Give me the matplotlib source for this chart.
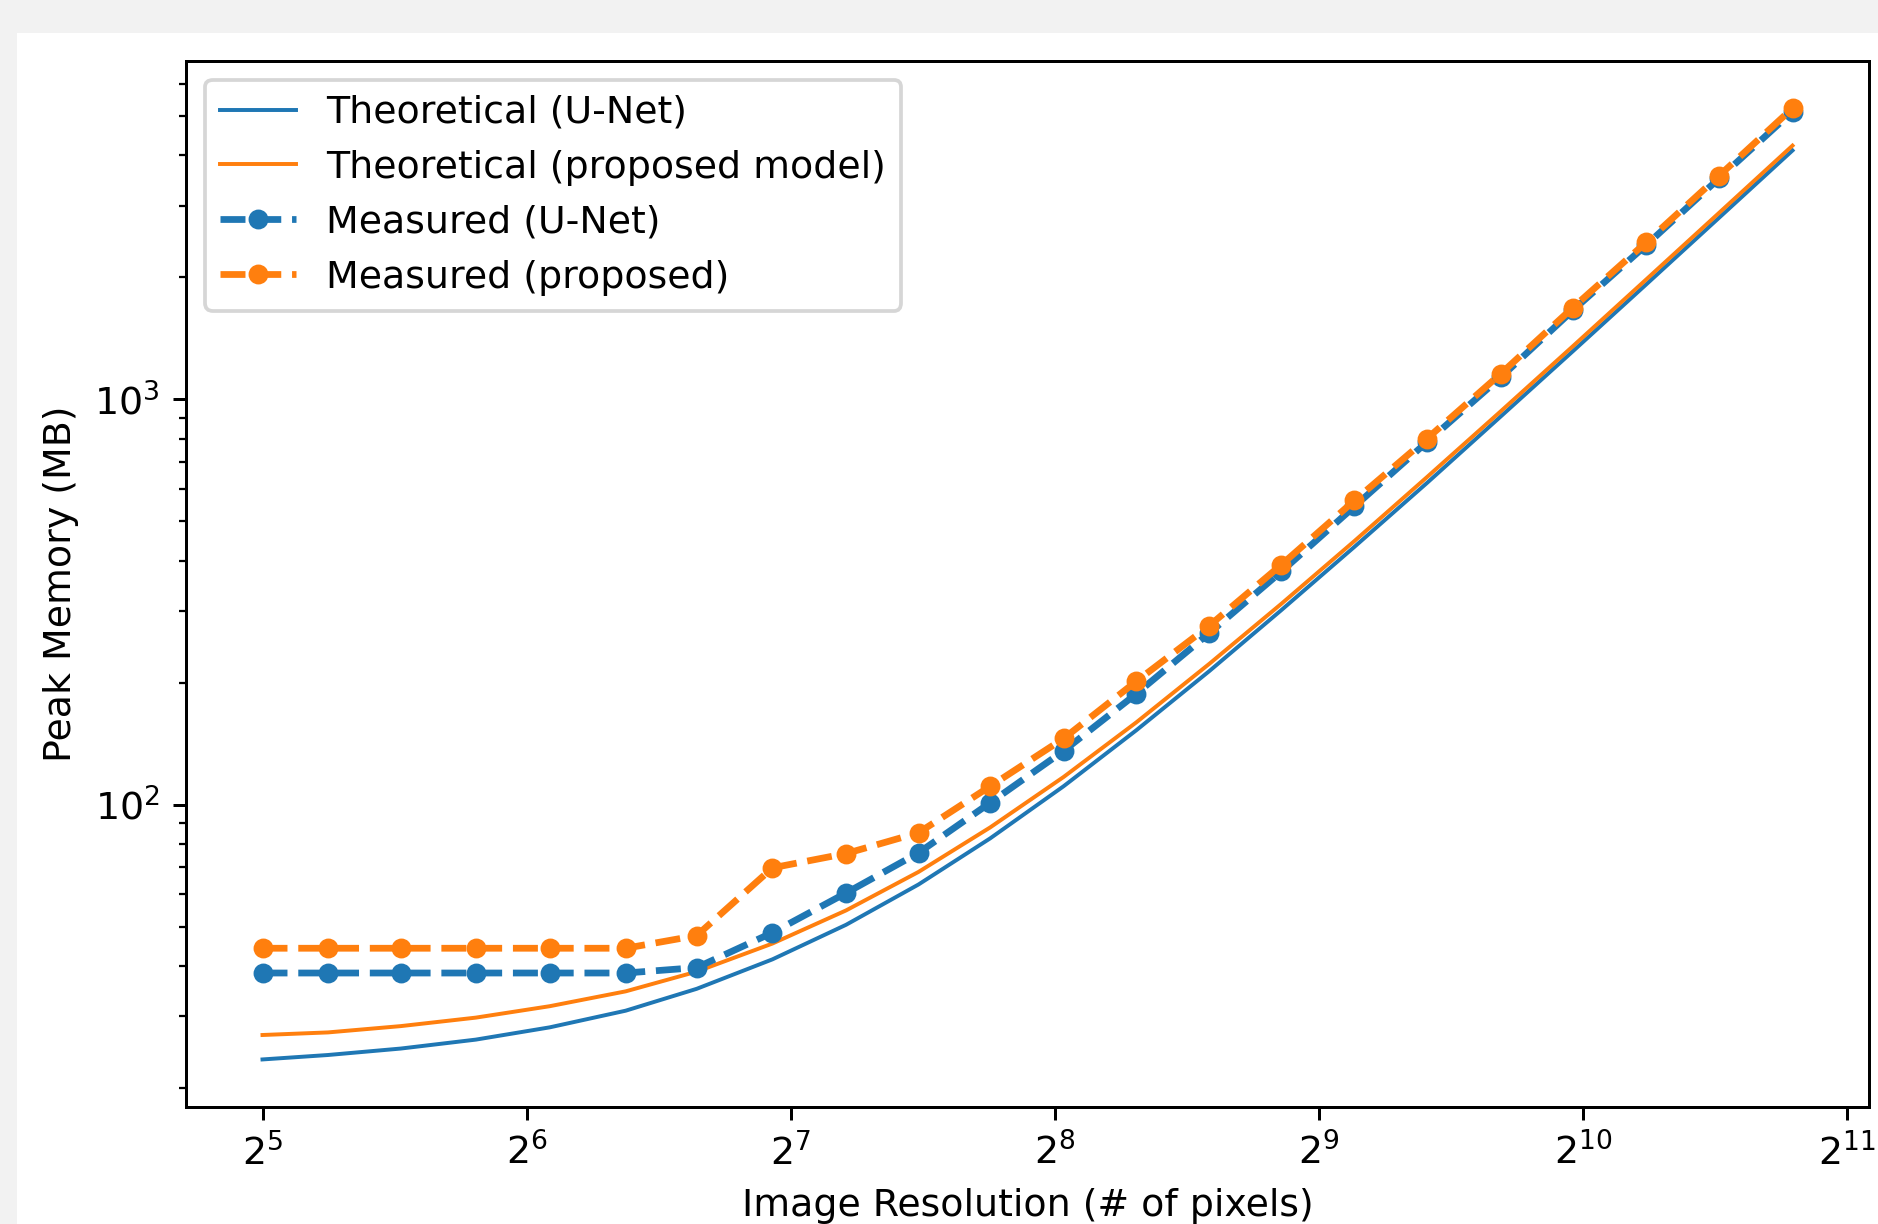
import matplotlib
matplotlib.use("Agg")
import matplotlib.pyplot as plt
from matplotlib.patches import Rectangle

# image resolution (pixels per side)
resolution = [32, 38, 46, 56, 68, 83, 100, 122, 148, 179, 216, 262,
              317, 384, 464, 562, 680, 825, 997, 1209, 1464, 1774]

# peak memory in MB
theory_unet = [23.5, 24.1, 25.0, 26.3, 28.2, 31.0, 35.1, 41.5, 50.5, 63.5, 82.5, 111.0,
               152.5, 213.5, 302.0, 432.5, 622.0, 907.0, 1314.0, 1922.0, 2808.0, 4110.0]
theory_proposed = [27.0, 27.4, 28.4, 29.8, 31.8, 34.6, 38.7, 45.4, 54.8, 68.2, 87.8, 117.0,
                   159.5, 222.5, 313.0, 447.0, 643.0, 934.0, 1352.0, 1977.0, 2887.0, 4225.0]
measured_unet = [38.4, 38.4, 38.4, 38.4, 38.4, 38.4, 39.6, 48.3, 60.5, 76.0, 101.0, 135.7,
                 187.6, 265.0, 376.0, 544.0, 785.0, 1133.0, 1658.0, 2404.0, 3512.0, 5127.0]
measured_proposed = [44.2, 44.2, 44.2, 44.2, 44.2, 44.2, 47.5, 69.8, 75.7, 85.2, 110.9, 145.6,
                     201.4, 276.3, 390.8, 562.6, 800.0, 1156.0, 1684.0, 2442.0, 3565.0, 5224.0]

plt.rcParams['font.size'] = 10.1

W, H, DPI = 1878, 1224, 270
fig = plt.figure(figsize=(W / DPI, H / DPI), dpi=DPI, facecolor='#f2f2f2')
# white page area (screenshot has a grey strip on top and left)
fig.patches.append(Rectangle((17 / W, 0), 1, (H - 33) / H, transform=fig.transFigure,
                             facecolor='white', edgecolor='none', zorder=-10))

ax = fig.add_axes([186 / W, (H - 1107) / H, (1869 - 186) / W, (1107 - 60.7) / H])

ax.plot(resolution, theory_unet, color='#1f77b4', lw=1.05, label='Theoretical (U-Net)')
ax.plot(resolution, theory_proposed, color='#ff7f0e', lw=1.05, label='Theoretical (proposed model)')
ax.plot(resolution, measured_unet, '--o', color='#1f77b4', lw=1.8, markersize=4.3,
        label='Measured (U-Net)')
ax.plot(resolution, measured_proposed, '--o', color='#ff7f0e', lw=1.8, markersize=4.3,
        label='Measured (proposed)')

ax.set_xscale('log', base=2)
ax.set_yscale('log')
ax.set_xlabel('Image Resolution (# of pixels)')
ax.set_ylabel('Peak Memory (MB)')
ax.legend(loc='upper left')

fig.savefig('out.png', dpi=DPI, facecolor=fig.get_facecolor())
